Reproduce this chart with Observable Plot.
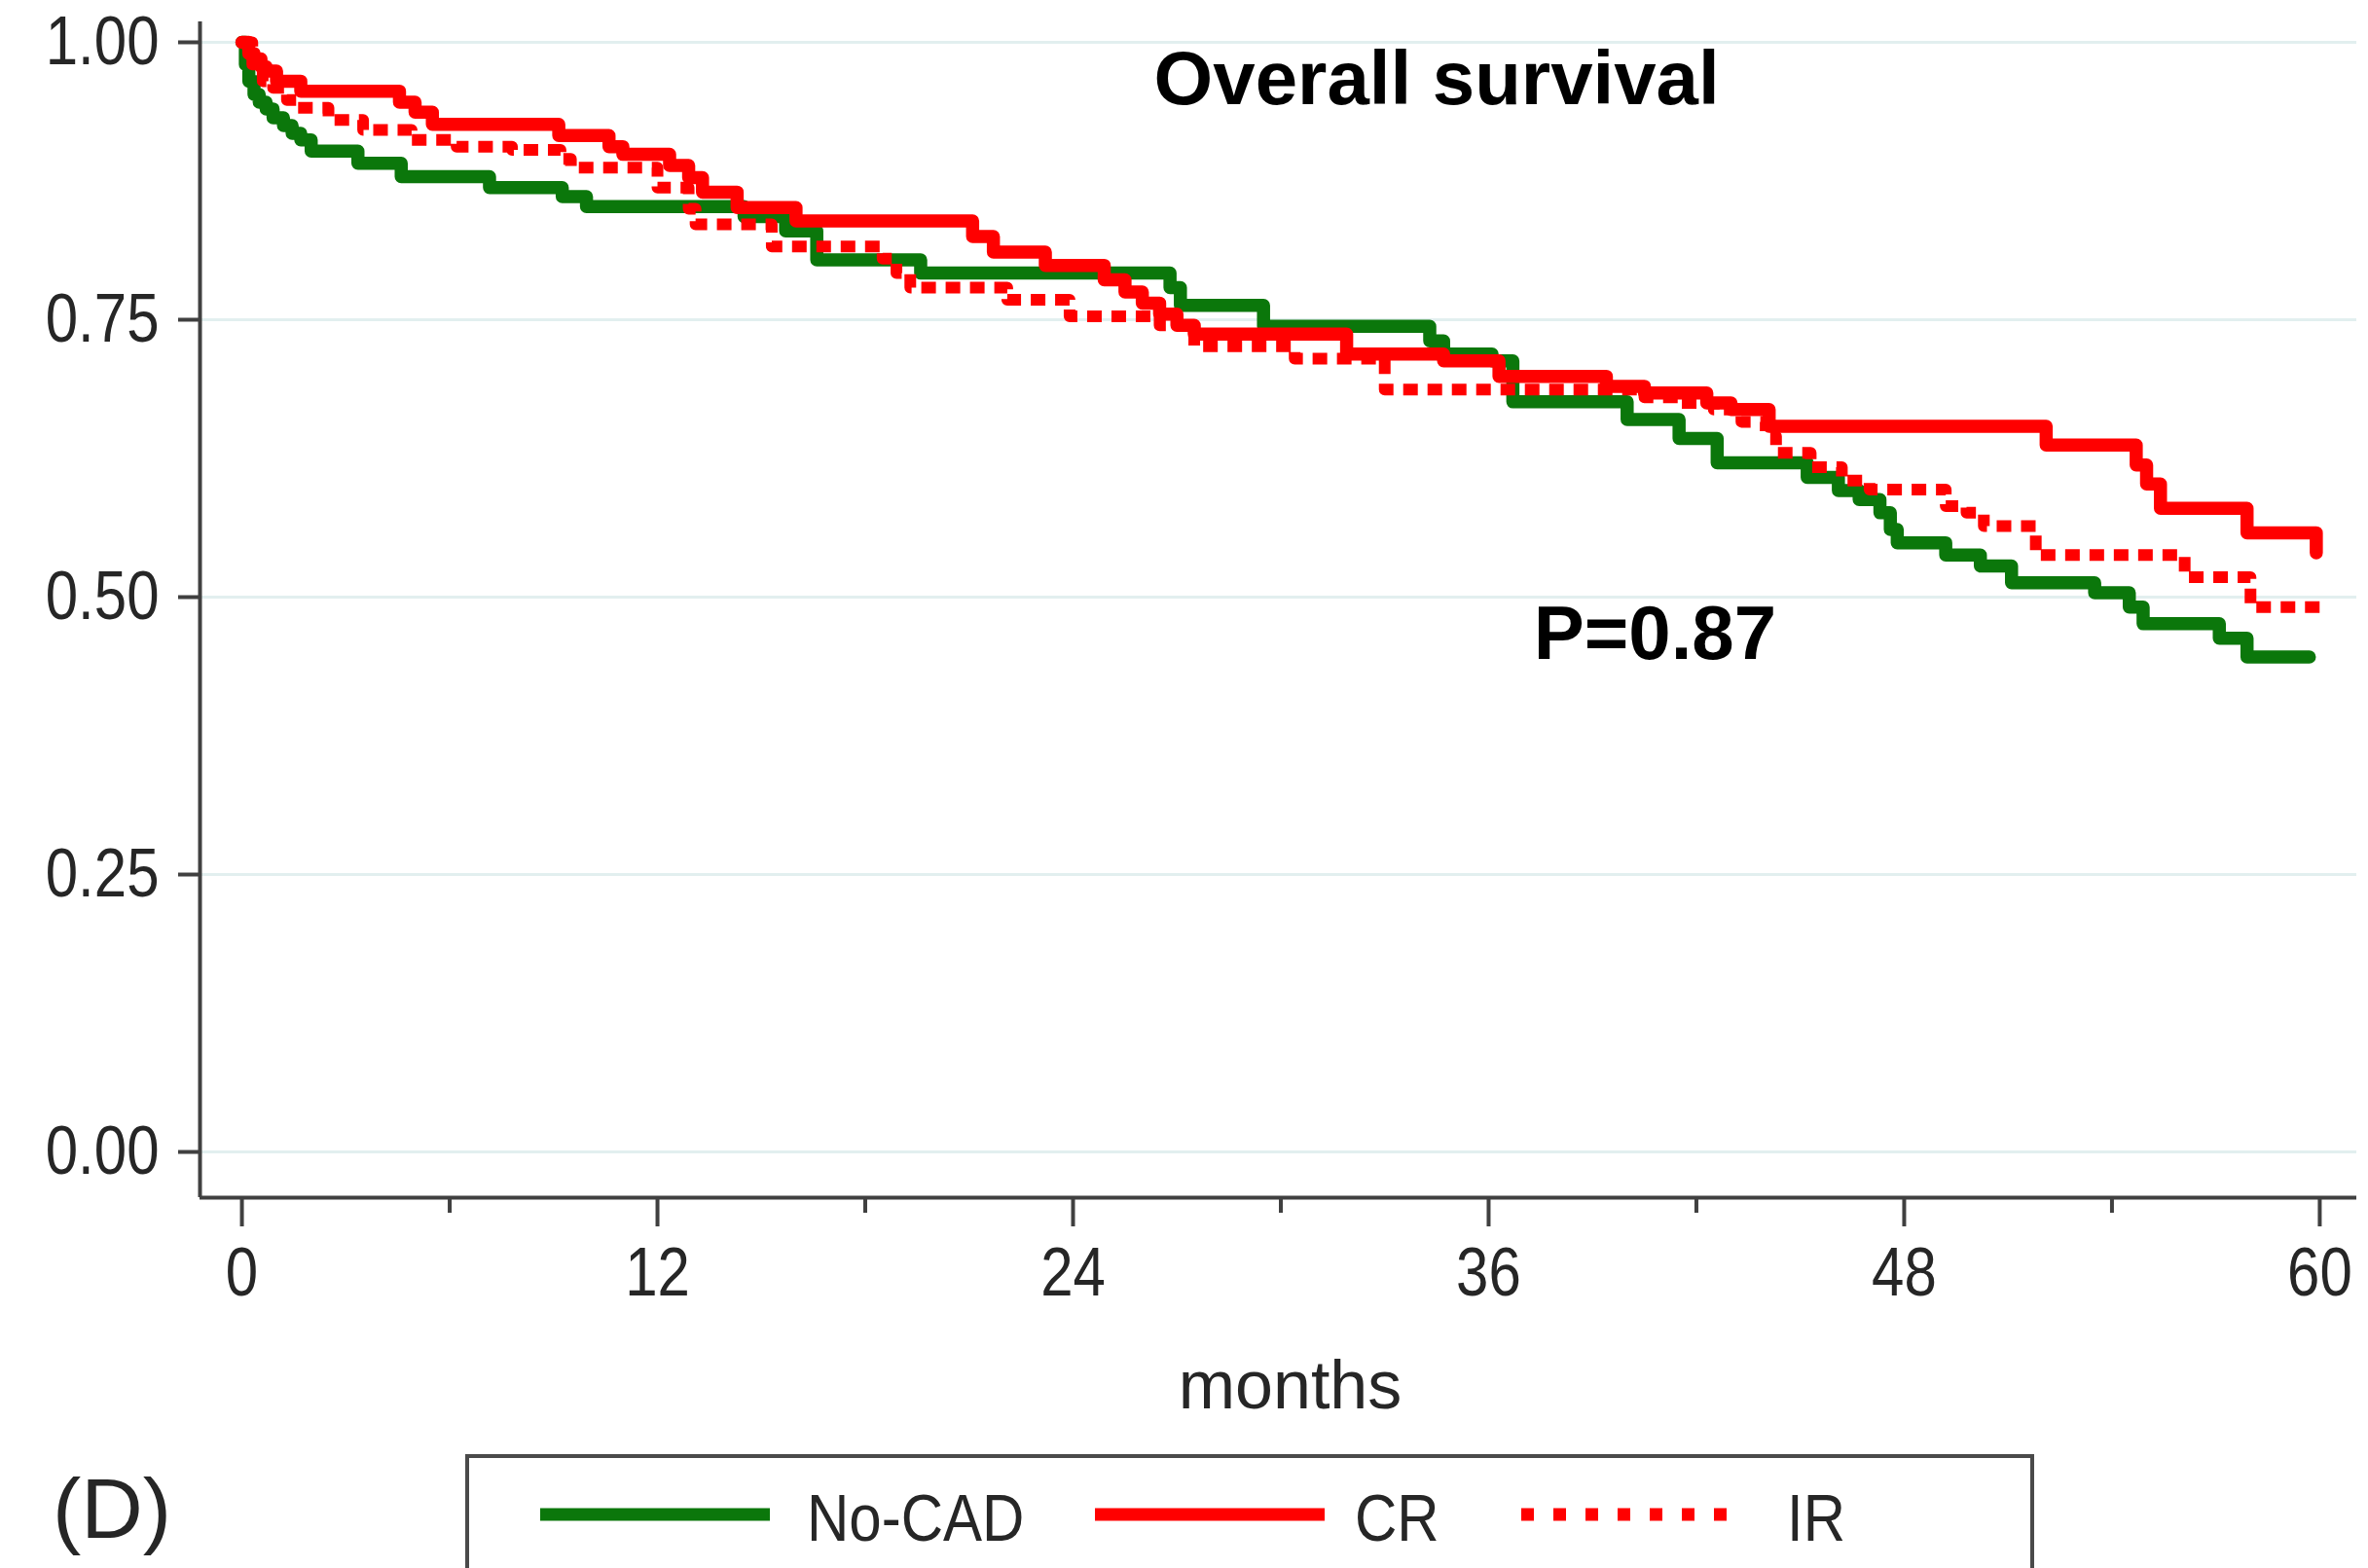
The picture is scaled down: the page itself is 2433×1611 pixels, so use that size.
<!DOCTYPE html>
<html>
<head>
<meta charset="utf-8">
<script src="https://cdn.jsdelivr.net/npm/d3@7"></script>
<script src="https://cdn.jsdelivr.net/npm/@observablehq/plot@0.6"></script>
<style>
  html, body { margin: 0; padding: 0; background: #fff; overflow: hidden; }
  #wrap { position: relative; width: 2433px; height: 1611px; }
  #chart { position: absolute; left: 0; top: 0; }
  #bottom { position: absolute; left: 0; top: 1470px; }
</style>
</head>
<body>
<div id="wrap">
  <div id="chart"></div>
  <svg id="bottom" width="2433" height="141"></svg>
</div>
<script>
// ---------- data ----------
const seriesNames = ["No-CAD", "CR", "IR"];
const seriesColors = ["#0b770b", "#ff0000", "#ff0000"];
const seriesDash = [null, null, "15,10"];

const noCadTime = [0, 0.1, 0.2, 0.35, 0.5, 0.7, 0.9, 1.2, 1.45, 1.7, 2.0, 3.35, 4.6, 7.15, 9.25, 9.95, 14.5, 15.7, 16.6, 19.6, 26.8, 27.1, 29.5, 34.3, 34.7, 36.1, 36.7, 40.0, 41.5, 42.6, 45.2, 46.1, 46.7, 47.3, 47.6, 47.8, 49.2, 50.2, 51.1, 53.5, 54.5, 54.9, 57.1, 57.9, 59.7];
const noCadSurv = [1.0, 0.98, 0.965, 0.953, 0.946, 0.94, 0.932, 0.925, 0.918, 0.912, 0.902, 0.891, 0.879, 0.869, 0.861, 0.852, 0.843, 0.83, 0.804, 0.792, 0.779, 0.763, 0.744, 0.731, 0.719, 0.713, 0.676, 0.66, 0.643, 0.621, 0.608, 0.596, 0.588, 0.576, 0.561, 0.549, 0.538, 0.528, 0.513, 0.504, 0.491, 0.476, 0.463, 0.446, 0.446];

const crTime = [0, 0.2, 0.35, 0.55, 0.7, 1.0, 1.7, 4.55, 5.0, 5.5, 9.15, 10.6, 11.0, 12.35, 12.9, 13.3, 14.3, 16.0, 21.1, 21.7, 23.2, 24.9, 25.5, 26.0, 26.5, 27.0, 27.5, 31.9, 34.7, 36.3, 39.4, 40.5, 42.3, 43.0, 44.1, 52.1, 54.7, 55.0, 55.4, 57.9, 59.9];
const crSurv = [1.0, 0.99, 0.985, 0.978, 0.974, 0.965, 0.956, 0.946, 0.937, 0.926, 0.916, 0.906, 0.899, 0.889, 0.878, 0.865, 0.851, 0.839, 0.825, 0.811, 0.799, 0.786, 0.775, 0.765, 0.755, 0.745, 0.737, 0.719, 0.713, 0.699, 0.69, 0.684, 0.675, 0.669, 0.654, 0.637, 0.619, 0.602, 0.58, 0.558, 0.54];

const irTime = [0, 0.3, 0.6, 0.9, 1.3, 1.6, 2.5, 3.5, 4.9, 6.2, 7.8, 9.2, 9.5, 12.0, 12.9, 13.1, 15.3, 18.5, 18.9, 19.3, 22.1, 23.9, 26.5, 27.5, 30.4, 33.0, 40.5, 41.5, 42.5, 43.3, 44.0, 44.3, 45.3, 46.2, 47.0, 49.2, 49.8, 50.3, 51.8, 56.1, 58.0, 60.0];
const irSurv = [1.0, 0.98, 0.965, 0.959, 0.948, 0.941, 0.93, 0.921, 0.912, 0.906, 0.903, 0.895, 0.887, 0.869, 0.85, 0.836, 0.816, 0.805, 0.792, 0.779, 0.768, 0.753, 0.745, 0.726, 0.715, 0.687, 0.68, 0.675, 0.669, 0.658, 0.645, 0.63, 0.617, 0.605, 0.597, 0.582, 0.576, 0.564, 0.538, 0.518, 0.491, 0.491];

const xMajorTicks = [0, 12, 24, 36, 48, 60];
const xMinorTicks = [6, 18, 30, 42, 54];
const yTicks = [0, 0.25, 0.5, 0.75, 1.0];
const xDomain = [-1.21, 61.07];
const yDomain = [-0.0412, 1.0184];
const xLabel = ["months"];
const titleNote = [{ label: "Overall survival", x: 34.5, y: 0.966 }];
const pNote = [{ label: "P=0.87", x: 37.3, y: 0.466 }];
const panelLabel = "(D)";

// ---------- build ----------
const times = [noCadTime, crTime, irTime];
const survs = [noCadSurv, crSurv, irSurv];
const rows = seriesNames.map((name, i) => times[i].map((t, j) => ({ group: name, t, s: survs[i][j] })));

const axisColor = "#404040";
const textColor = "#262626";
const sans = "'Liberation Sans', Arial, sans-serif";
const stretch = 1.18; // tick labels in the original are a tall narrow face

const lineMarks = rows.map((data, i) => Plot.line(data, {
  x: "t", y: "s", curve: "step-after",
  stroke: seriesColors[i], strokeWidth: seriesDash[i] ? 12 : 13.5,
  strokeDasharray: seriesDash[i] || undefined,
  strokeLinejoin: "round", strokeLinecap: seriesDash[i] ? "butt" : "round"
}));

const chart = Plot.plot({
  width: 2433,
  height: 1470,
  marginLeft: 205,
  marginRight: 12,
  marginTop: 22,
  marginBottom: 240,
  style: { fontFamily: sans, background: "white", color: textColor },
  x: { domain: xDomain },
  y: { domain: yDomain },
  marks: [
    Plot.gridY(yTicks, { stroke: "#e2efef", strokeOpacity: 1, strokeWidth: 3 }),
    lineMarks[0], lineMarks[1], lineMarks[2],
    Plot.ruleX([xDomain[0]], { stroke: axisColor, strokeWidth: 4 }),
    Plot.ruleY([yDomain[0]], { stroke: axisColor, strokeWidth: 4 }),
    Plot.axisY(yTicks, {
      tickSize: 22, tickPadding: 20, tickFormat: d3.format(".2f"), label: null,
      stroke: axisColor, strokeWidth: 4, fontSize: 60, fill: textColor
    }),
    Plot.axisX(xMajorTicks, {
      tickSize: 30, tickPadding: 24, tickFormat: d => String(d), label: null,
      stroke: axisColor, strokeWidth: 4, fontSize: 60, fill: textColor
    }),
    Plot.axisX(xMinorTicks, {
      tickSize: 16, tickFormat: () => "", label: null, stroke: axisColor, strokeWidth: 4
    }),
    Plot.text(xLabel, {
      text: d => d, frameAnchor: "bottom", dx: 12, dy: 194, fontSize: 70,
      lineAnchor: "middle", fill: textColor
    }),
    Plot.text(titleNote, {
      x: "x", y: "y", text: "label", textAnchor: "middle",
      fontSize: 78, fontWeight: "bold", fill: "#000", lineAnchor: "middle"
    }),
    Plot.text(pNote, {
      x: "x", y: "y", text: "label", textAnchor: "start",
      fontSize: 78, fontWeight: "bold", fill: "#000", lineAnchor: "middle"
    })
  ]
});
document.getElementById("chart").append(chart);

// stretch a text element vertically about its own centre
function stretchText(el, s) {
  const b = el.getBBox();
  const cy = b.y + b.height / 2;
  const prev = el.getAttribute("transform") || "";
  el.setAttribute("transform", `${prev} translate(0,${cy}) scale(1,${s}) translate(0,${-cy})`.trim());
}
chart.querySelectorAll('g[aria-label="y-axis tick label"] text, g[aria-label="x-axis tick label"] text')
  .forEach(el => { if (el.textContent) stretchText(el, stretch); });

// ---------- bottom: panel label + legend ----------
const bottom = d3.select("#bottom");
bottom.append("text").attr("x", 54).attr("y", 110)
  .attr("font-family", sans).attr("font-size", 88)
  .attr("fill", textColor).text(panelLabel);

bottom.append("rect").attr("x", 480).attr("y", 26).attr("width", 1608).attr("height", 160)
  .attr("fill", "none").attr("stroke", "#4a4a4a").attr("stroke-width", 4);

const legendLayout = [
  { x1: 555, x2: 791, tx: 829 },
  { x1: 1125, x2: 1361, tx: 1392 },
  { x1: 1563, x2: 1789, tx: 1836 }
];
seriesNames.forEach((name, i) => {
  const L = legendLayout[i];
  bottom.append("line").attr("x1", L.x1).attr("x2", L.x2).attr("y1", 86).attr("y2", 86)
    .attr("stroke", seriesColors[i]).attr("stroke-width", 13)
    .attr("stroke-dasharray", seriesDash[i] ? "13,20" : null);
  const t = bottom.append("text").attr("x", L.tx).attr("y", 110)
    .attr("font-family", sans).attr("font-size", 60).attr("fill", textColor).text(name);
  stretchText(t.node(), 1.14);
});
</script>
</body>
</html>
